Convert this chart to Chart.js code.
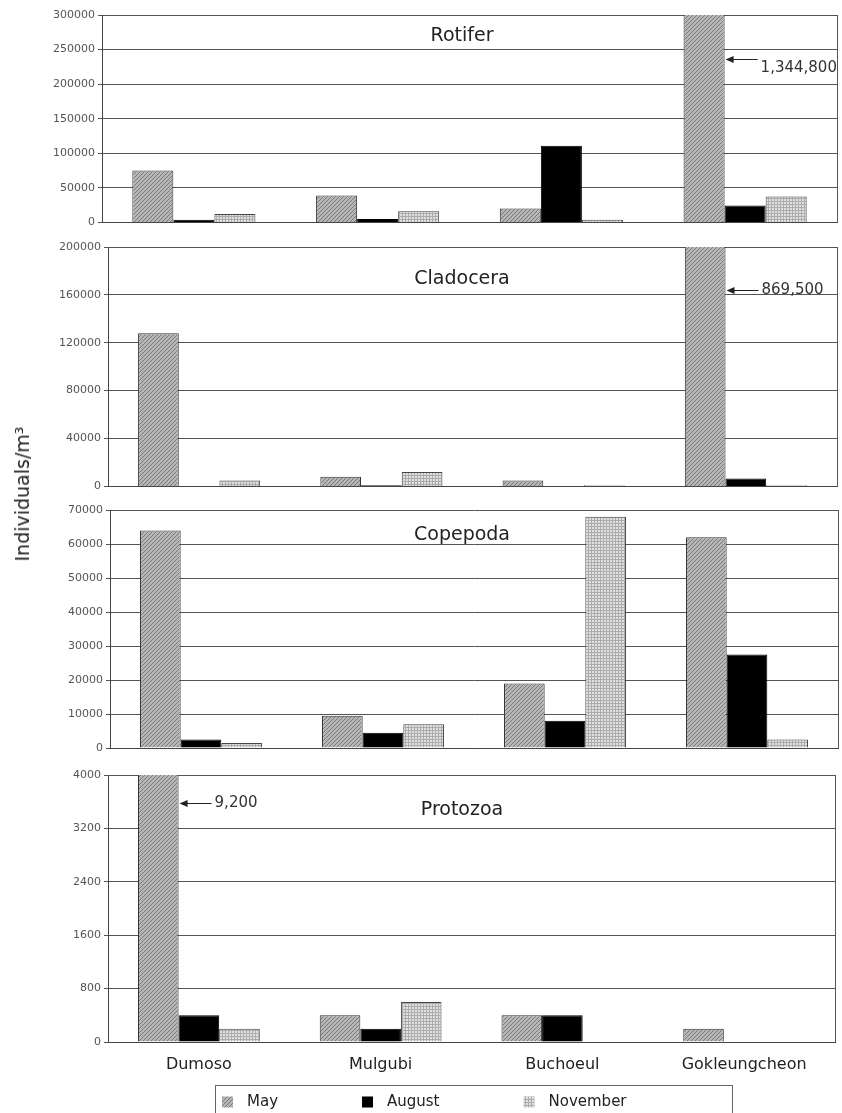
<!DOCTYPE html>
<html><head><meta charset="utf-8">
<script src="https://cdn.jsdelivr.net/npm/chart.js@4.4.1/dist/chart.umd.min.js"></script>
<style>
body{margin:0;background:#fff;width:842px;height:1113px;position:relative;overflow:hidden;font-family:"DejaVu Sans",sans-serif;}
canvas{position:absolute;left:0;}
#ytitle{position:absolute;left:22px;top:494px;transform:translate(-50%,-50%) rotate(-90deg);white-space:nowrap;font-size:19px;color:#222;}
</style></head><body>
<canvas id="c1" width="842" height="232" style="top:0px;width:842px;height:232px"></canvas>
<canvas id="c2" width="842" height="264" style="top:232px;width:842px;height:264px"></canvas>
<canvas id="c3" width="842" height="264" style="top:496px;width:842px;height:264px"></canvas>
<canvas id="c4" width="842" height="353" style="top:760px;width:842px;height:353px"></canvas>
<div id="ytitle">Individuals/m³</div>
<script>
// ---- data ----
const sites = ['Dumoso', 'Mulgubi', 'Buchoeul', 'Gokleungcheon'];
const months = ['May', 'August', 'November'];
const panelTitles = ['Rotifer', 'Cladocera', 'Copepoda', 'Protozoa'];

const rotiferMay = [75000, 39000, 20000, 1344800];
const rotiferAug = [4000, 5000, 111000, 24500];
const rotiferNov = [12000, 16000, 4000, 37500];

const cladoceraMay = [128000, 8000, 5000, 869500];
const cladoceraAug = [0, 1000, 0, 6500];
const cladoceraNov = [5000, 12000, 1000, 1000];

const copepodaMay = [64000, 9500, 19000, 62000];
const copepodaAug = [2500, 4500, 8000, 27500];
const copepodaNov = [1500, 7000, 68000, 2500];

const protozoaMay = [9200, 400, 400, 200];
const protozoaAug = [400, 200, 400, 0];
const protozoaNov = [200, 600, 0, 0];

const rotiferTicks = [0, 50000, 100000, 150000, 200000, 250000, 300000];
const cladoceraTicks = [0, 40000, 80000, 120000, 160000, 200000];
const copepodaTicks = [0, 10000, 20000, 30000, 40000, 50000, 60000, 70000];
const protozoaTicks = [0, 800, 1600, 2400, 3200, 4000];

const rotiferNote = {text: '1,344,800', site: 3, at: 236000};
const cladoceraNote = {text: '869,500', site: 3, at: 164000};
const protozoaNote = {text: '9,200', site: 0, at: 3580};

// ---- styling ----
const FONT = "'DejaVu Sans', 'Liberation Sans', sans-serif";
Chart.defaults.font.family = FONT;

function makePattern(size, bg, fg, drawFn) {
  const c = document.createElement('canvas');
  c.width = size; c.height = size;
  const g = c.getContext('2d');
  g.fillStyle = bg; g.fillRect(0, 0, size, size);
  g.fillStyle = fg; drawFn(g, size);
  return g.createPattern(c, 'repeat');
}
const mayPat = makePattern(4, '#b6b6b6', '#7a7a7a', (g, s) => {
  for (let i = 0; i < s; i++) g.fillRect(s - 1 - i, i, 1, 1);
});
const novPat = makePattern(3, '#e0e0e0', '#acacac', (g, s) => {
  g.fillRect(0, 0, s, 1); g.fillRect(0, 0, 1, s);
});
const fills = [mayPat, '#000000', novPat];
const borders = ['#333333', '#000000', '#444444'];

const panelPlugin = {
  id: 'panel',
  afterDatasetsDraw(chart, args, o) {
    const ctx = chart.ctx, a = chart.chartArea;
    ctx.save();
    ctx.strokeStyle = '#555';
    ctx.lineWidth = 1;
    ctx.beginPath();
    ctx.moveTo(Math.round(a.right) + 0.5, a.top);
    ctx.lineTo(Math.round(a.right) + 0.5, a.bottom);
    ctx.stroke();
    // title
    ctx.fillStyle = '#222';
    ctx.font = '19px ' + FONT;
    ctx.textAlign = 'center';
    ctx.textBaseline = 'middle';
    ctx.fillText(o.title, o.titleX, a.top + o.titleDy);
    // annotation arrow
    if (o.note) {
      const bar = chart.getDatasetMeta(0).data[o.note.site];
      const p = bar.getProps(['x', 'width'], true);
      const xe = p.x + p.width / 2 + 1;
      const y = Math.round(chart.scales.y.getPixelForValue(o.note.at)) + 0.5;
      ctx.strokeStyle = '#222';
      ctx.fillStyle = '#222';
      ctx.beginPath();
      ctx.moveTo(xe + 6, y); ctx.lineTo(xe + 32, y); ctx.stroke();
      ctx.beginPath();
      ctx.moveTo(xe, y); ctx.lineTo(xe + 8, y - 3.5); ctx.lineTo(xe + 8, y + 3.5); ctx.closePath(); ctx.fill();
      ctx.font = '15px ' + FONT;
      ctx.fillStyle = '#333';
      ctx.textAlign = 'left';
      ctx.fillText(o.note.text, xe + 35, y + (o.noteDy || 0));
    }
    ctx.restore();
  },
  afterDraw(chart, args, o) {
    if (!o.legend) return;
    const ctx = chart.ctx;
    const L = o.legend;
    ctx.save();
    ctx.font = '15px ' + FONT;
    ctx.textBaseline = 'middle';
    ctx.textAlign = 'left';
    let x = L.x0;
    chart.data.datasets.forEach((ds, i) => {
      ctx.fillStyle = ds.backgroundColor;
      ctx.fillRect(x, L.y - 5.5, 11, 11);
      ctx.fillStyle = '#222';
      const tx = x + L.textGap;
      ctx.fillText(ds.label, tx, L.y);
      x = tx + ctx.measureText(ds.label).width + L.itemGap;
    });
    ctx.strokeStyle = '#666';
    ctx.lineWidth = 1;
    ctx.strokeRect(L.boxLeft + 0.5, L.boxTop + 0.5, L.boxRight - L.boxLeft, 40);
    ctx.restore();
  }
};

function buildChart(id, cfg) {
  const ticks = cfg.ticks;
  const xh = cfg.xHeight || 0;
  return new Chart(document.getElementById(id), {
    type: 'bar',
    data: {
      labels: sites,
      datasets: [cfg.may, cfg.aug, cfg.nov].map((d, i) => ({
        label: months[i], data: d, backgroundColor: fills[i], borderColor: borders[i],
        borderWidth: 1, clip: 0
      }))
    },
    options: {
      responsive: false, animation: false, events: [],
      layout: {padding: {left: 0, right: 842 - cfg.right, top: cfg.padTop, bottom: cfg.padBottom}},
      datasets: {bar: {categoryPercentage: 0.67, barPercentage: 1}},
      plugins: {
        legend: {display: false}, tooltip: {enabled: false},
        panel: {title: cfg.title, titleX: 462, titleDy: cfg.titleDy, note: cfg.note, noteDy: cfg.noteDy, legend: cfg.legend}
      },
      scales: {
        x: {
          grid: {display: false, drawTicks: false},
          border: {display: true, color: '#444', width: 1},
          ticks: {display: !!cfg.showX, font: {size: 16, family: FONT}, color: '#222', padding: 13, maxRotation: 0, autoSkip: false},
          afterFit: s => { s.height = xh; s.paddingLeft = 0; s.paddingRight = 0; }
        },
        y: {
          min: 0, max: ticks[ticks.length - 1],
          afterBuildTicks: s => { s.ticks = ticks.map(v => ({value: v})); },
          ticks: {font: {size: 11, family: FONT}, color: '#555', padding: 3, callback: v => String(v)},
          grid: {color: '#555', lineWidth: 1, tickLength: 4, drawTicks: true},
          border: {display: true, color: '#444', width: 1},
          afterFit: s => { s.width = cfg.left; }
        }
      }
    },
    plugins: [panelPlugin]
  });
}

buildChart('c1', {title: panelTitles[0], may: rotiferMay, aug: rotiferAug, nov: rotiferNov, ticks: rotiferTicks,
  left: 102, right: 837, padTop: 15, padBottom: 9, titleDy: 21, note: rotiferNote, noteDy: 9});
buildChart('c2', {title: panelTitles[1], may: cladoceraMay, aug: cladoceraAug, nov: cladoceraNov, ticks: cladoceraTicks,
  left: 108, right: 837, padTop: 15, padBottom: 9, titleDy: 32, note: cladoceraNote, noteDy: 0});
buildChart('c3', {title: panelTitles[2], may: copepodaMay, aug: copepodaAug, nov: copepodaNov, ticks: copepodaTicks,
  left: 110, right: 838, padTop: 14, padBottom: 12, titleDy: 25});
buildChart('c4', {title: panelTitles[3], may: protozoaMay, aug: protozoaAug, nov: protozoaNov, ticks: protozoaTicks,
  left: 108, right: 835, padTop: 15, padBottom: 31, xHeight: 40, titleDy: 35, note: protozoaNote, noteDy: 0, showX: true,
  legend: {x0: 222, y: 342, textGap: 25, itemGap: 84, boxLeft: 215, boxRight: 732, boxTop: 325}});
</script>
</body></html>
